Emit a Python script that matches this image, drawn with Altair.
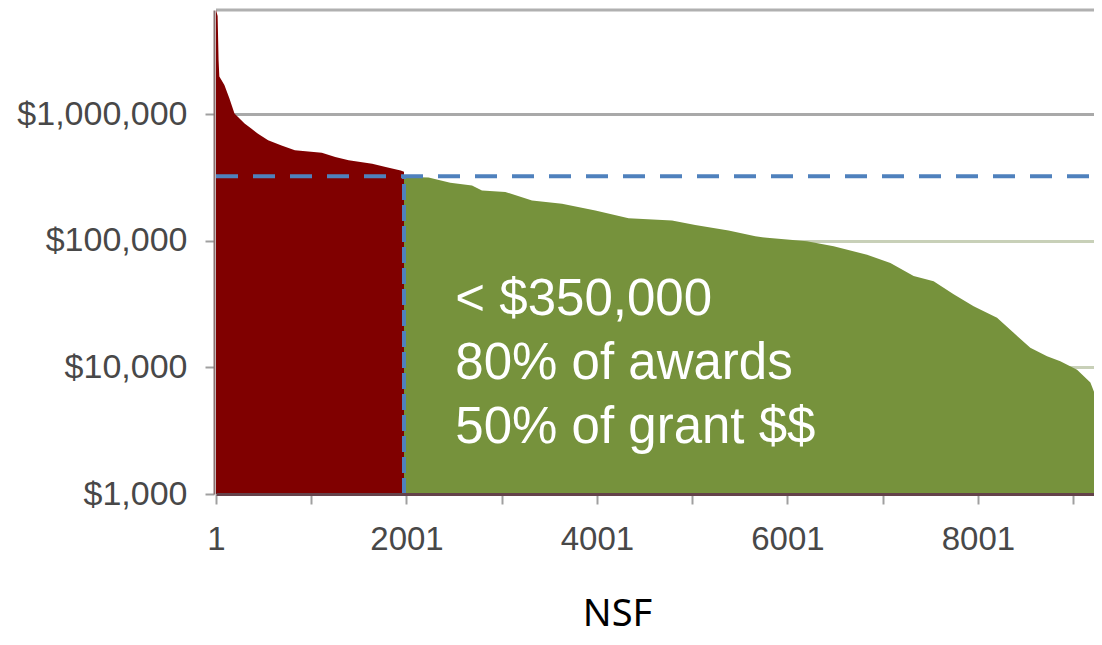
import altair as alt
import pandas as pd

# ---- data ----
top_rank = [1, 18, 28, 36, 89, 142, 195, 248, 301, 371, 442, 548, 689, 829,
            1112, 1253, 1394, 1641, 1782, 1940, 1975]
top_value = [6700000, 6000000, 2700000, 2000000, 1710000, 1340000, 1020000, 930000,
             849000, 774000, 706000, 625000, 570000, 521000, 499000, 461000,
             434000, 408000, 385000, 361000, 352000]

rest_rank = [1975, 2023, 2233, 2461, 2689, 2794, 3039, 3319, 3634, 3984, 4333,
             4789, 5033, 5383, 5664, 5787, 6206, 6486, 6837, 7082, 7326, 7536,
             7746, 7956, 8202, 8376, 8551, 8727, 8866, 9042, 9182, 9307]
rest_value = [325000, 320000, 318000, 289000, 275000, 251000, 244000, 209000,
              197000, 174000, 151000, 145000, 134000, 121000, 109000, 106000,
              99600, 91000, 78000, 67000, 53000, 48000, 38000, 30500, 24700,
              18800, 14300, 12300, 11200, 9600, 7600, 4400]

threshold = 325000
split_rank = 1975
x_ticks = [1, 1001, 2001, 3001, 4001, 5001, 6001, 7001, 8001, 9001]
y_ticks = [1000, 10000, 100000, 1000000]
annotation = "< $350,000\n80% of awards\n50% of grant $$"
x_title = "NSF"

X_MIN, X_MAX = 1, 9220
Y_MIN, Y_MAX = 1000, 6700000

df = pd.DataFrame({
    "rank": top_rank + rest_rank,
    "value": top_value + rest_value,
    "group": ["top"] * len(top_rank) + ["rest"] * len(rest_rank),
})

xscale = alt.Scale(domain=[X_MIN, X_MAX], nice=False, zero=False)
yscale = alt.Scale(type="log", domain=[Y_MIN, Y_MAX], nice=False)

areas = alt.Chart(df).mark_area(clip=True, interpolate="linear").encode(
    x=alt.X("rank:Q", scale=xscale,
            axis=alt.Axis(values=x_ticks, format="d",
                          labelExpr="(datum.value - 1) % 2000 == 0 ? datum.label : ''",
                          labelFont="Liberation Sans", labelFontSize=33,
                          labelColor="#484848", labelPadding=19, labelFlush=False,
                          tickColor="#a0a0a0", tickSize=10, tickWidth=2,
                          domainColor="#64424a", domainWidth=3, grid=False,
                          title=x_title, titleFont="Noto Sans", titleFontSize=38,
                          titleFontWeight="normal", titleColor="#000000",
                          titleBaseline="alphabetic", titleX=401, titleY=131,
                          titleAnchor="middle", zindex=1)),
    y=alt.Y("value:Q", scale=yscale, stack=None,
            axis=alt.Axis(values=y_ticks, format="$,.0f",
                          labelFont="Liberation Sans", labelFontSize=34,
                          labelColor="#484848", labelPadding=18,
                          tickColor="#a0a0a0", tickSize=9, tickWidth=2,
                          domainColor="#8a7070", domainWidth=2, offset=2,
                          grid=True, gridWidth=3,
                          gridColor={"condition": {"test": "datum.value >= 1000000",
                                                   "value": "#a9a9a9"},
                                     "value": "#c8d0b8"},
                          title=None)),
    y2=alt.datum(Y_MIN),
    color=alt.Color("group:N", scale=alt.Scale(domain=["top", "rest"],
                                               range=["#800000", "#76923c"]),
                    legend=None),
)

rules_df = pd.DataFrame({"thr": [threshold], "split": [split_rank],
                         "x0": [X_MIN], "x1": [X_MAX], "y0": [Y_MIN], "ytop": [Y_MAX]})

top_line = alt.Chart(rules_df).mark_rule(color="#b0b0b0", strokeWidth=3).encode(
    x=alt.X("x0:Q", scale=xscale), x2="x1:Q",
    y=alt.Y("ytop:Q", scale=yscale),
)

hline = alt.Chart(rules_df).mark_rule(color="#4f81bd", strokeWidth=4,
                                      strokeDash=[22, 15]).encode(
    x=alt.X("x0:Q", scale=xscale), x2="x1:Q",
    y=alt.Y("thr:Q", scale=yscale),
)

vline = alt.Chart(rules_df).mark_rule(color="#4f81bd", strokeWidth=4,
                                      strokeDash=[16, 5]).encode(
    x=alt.X("split:Q", scale=xscale),
    y=alt.Y("y0:Q", scale=yscale), y2="thr:Q",
)

text_df = pd.DataFrame({"t": [annotation], "tx": [2514], "ty": [26200]})
label = alt.Chart(text_df).mark_text(align="left", baseline="alphabetic",
                                     font="Liberation Sans", fontSize=51,
                                     color="white", lineBreak="\n",
                                     lineHeight=64).encode(
    x=alt.X("tx:Q", scale=xscale),
    y=alt.Y("ty:Q", scale=yscale),
    text="t:N",
)

chart = alt.layer(top_line, areas, hline, vline, label).properties(
    width=878, height=484,
    autosize=alt.AutoSizeParams(type="none"),
    padding={"left": 208, "top": 2, "right": 0, "bottom": 142},
    background="white",
).configure_view(stroke=None)

chart.save("out.html", embed_options={"renderer": "svg", "actions": False})
